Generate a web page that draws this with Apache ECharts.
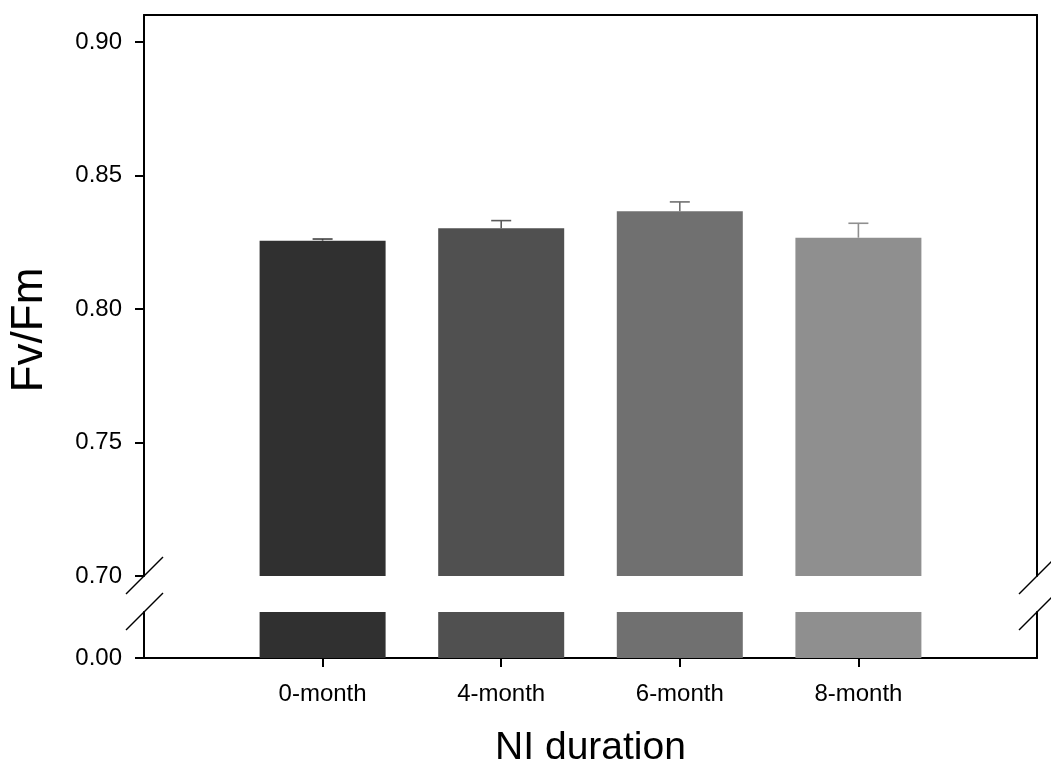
<!DOCTYPE html>
<html>
<head>
<meta charset="utf-8">
<script src="https://cdn.jsdelivr.net/npm/echarts@6/dist/echarts.min.js"></script>
<style>html,body{margin:0;padding:0;background:#fff}#c{width:1051px;height:769px}</style>
</head>
<body>
<div id="c"></div>
<script>
var categories = ['0-month', '4-month', '6-month', '8-month'];
var fvfm = [0.8256, 0.8302, 0.8366, 0.8267];
var sem = [0.0006, 0.0029, 0.0035, 0.0054];
var upperTicks = [0.70, 0.75, 0.80, 0.85, 0.90];
var lowerTicks = [0.00];
var barColors = ['#303030', '#505050', '#707070', '#8f8f8f'];
var errColors = ['#404040', '#5a5a5a', '#707070', '#8f8f8f'];

var FONT = "'Liberation Sans', Arial, Helvetica, sans-serif";
var L = 144, W = 893, T1 = 15, H1 = 561, T2 = 612, H2 = 47;
var axisData = [''].concat(categories).concat(['']);
function pad(arr) { return ['-'].concat(arr).concat(['-']); }
var barData = pad(fvfm.map(function (v, i) { return { value: v, itemStyle: { color: barColors[i] } }; }));
var errData = fvfm.map(function (v, i) { return [i + 1, v, sem[i]]; });
var lineStyle = { color: '#000', width: 2 };

var chart = echarts.init(document.getElementById('c'), null, { renderer: 'canvas' });
chart.setOption({
  animation: false,
  backgroundColor: '#fff',
  grid: [
    { left: L, top: T1, width: W, height: H1 },
    { left: L, top: T2, width: W, height: H2 },
    { left: L, top: T1, width: W, height: 630 }
  ],
  xAxis: [
    { type: 'category', gridIndex: 0, data: axisData, boundaryGap: false, position: 'bottom',
      axisLine: { show: false }, axisTick: { show: false }, axisLabel: { show: false }, splitLine: { show: false } },
    { type: 'category', gridIndex: 0, data: axisData, boundaryGap: false, position: 'top',
      axisLine: { show: true, lineStyle: lineStyle }, axisTick: { show: false }, axisLabel: { show: false }, splitLine: { show: false } },
    { type: 'category', gridIndex: 1, data: axisData, boundaryGap: false, position: 'bottom',
      axisLine: { show: true, lineStyle: lineStyle },
      axisTick: { show: true, length: 9, lineStyle: { color: '#000', width: 2 },
        interval: function (i) { return i >= 1 && i <= categories.length; } },
      axisLabel: { show: true, margin: 24, color: '#000', fontSize: 24, fontFamily: FONT, interval: 0 },
      name: 'NI duration', nameLocation: 'middle', nameGap: 71,
      nameTextStyle: { color: '#000', fontSize: 39, fontFamily: FONT },
      splitLine: { show: false } },
    { type: 'category', gridIndex: 2, data: axisData, show: false }
  ],
  yAxis: [
    { type: 'value', gridIndex: 0, min: 0.70, max: 0.9101, position: 'left',
      axisLine: { show: true, lineStyle: lineStyle },
      axisTick: { show: true, length: 9, lineStyle: { color: '#000', width: 2 }, customValues: upperTicks },
      axisLabel: { show: true, margin: 22, color: '#000', fontSize: 24, fontFamily: FONT, customValues: upperTicks,
        formatter: function (v) { return v.toFixed(2); } },
      splitLine: { show: false } },
    { type: 'value', gridIndex: 0, min: 0.70, max: 0.9101, position: 'right',
      axisLine: { show: true, lineStyle: lineStyle }, axisTick: { show: false }, axisLabel: { show: false }, splitLine: { show: false } },
    { type: 'value', gridIndex: 1, min: 0, max: 0.1, position: 'left',
      axisLine: { show: true, lineStyle: lineStyle },
      axisTick: { show: true, length: 9, lineStyle: { color: '#000', width: 2 }, customValues: lowerTicks },
      axisLabel: { show: true, margin: 22, color: '#000', fontSize: 24, fontFamily: FONT, customValues: lowerTicks,
        formatter: function (v) { return v.toFixed(2); } },
      splitLine: { show: false } },
    { type: 'value', gridIndex: 1, min: 0, max: 0.1, position: 'right',
      axisLine: { show: true, lineStyle: lineStyle }, axisTick: { show: false }, axisLabel: { show: false }, splitLine: { show: false } },
    { type: 'value', gridIndex: 2, position: 'left',
      axisLine: { show: false }, axisTick: { show: false }, axisLabel: { show: false }, splitLine: { show: false },
      name: 'Fv/Fm', nameLocation: 'middle', nameGap: 100,
      nameTextStyle: { color: '#000', fontSize: 44, fontFamily: FONT } }
  ],
  series: [
    { type: 'bar', xAxisIndex: 0, yAxisIndex: 0, data: barData, barWidth: 126, clip: true, silent: true },
    { type: 'bar', xAxisIndex: 2, yAxisIndex: 2, data: barData, barWidth: 126, clip: true, silent: true },
    { type: 'custom', xAxisIndex: 0, yAxisIndex: 0, data: errData, encode: { x: 0, y: 1 }, silent: true,
      renderItem: function (params, api) {
        var x = api.value(0), v = api.value(1), e = api.value(2);
        var p1 = api.coord([x, v]);
        var p2 = api.coord([x, v + e]);
        var col = errColors[params.dataIndex];
        var st = { stroke: col, lineWidth: 1.6 };
        return { type: 'group', children: [
          { type: 'line', shape: { x1: p1[0], y1: p1[1], x2: p2[0], y2: p2[1] }, style: st },
          { type: 'line', shape: { x1: p2[0] - 10, y1: p2[1], x2: p2[0] + 10, y2: p2[1] }, style: st }
        ] };
      } }
  ],
  graphic: [
    { type: 'rect', shape: { x: L - 3, y: T1 + H1 + 1, width: 6, height: T2 - T1 - H1 - 2 }, style: { fill: '#fff' }, z: 100 },
    { type: 'rect', shape: { x: L + W - 3, y: T1 + H1 + 1, width: 6, height: T2 - T1 - H1 - 2 }, style: { fill: '#fff' }, z: 100 },
    { type: 'line', shape: { x1: L - 18, y1: T1 + H1 + 18, x2: L + 19, y2: T1 + H1 - 19 }, style: { stroke: '#000', lineWidth: 1.5 }, z: 101 },
    { type: 'line', shape: { x1: L - 18, y1: T2 + 18, x2: L + 19, y2: T2 - 19 }, style: { stroke: '#000', lineWidth: 1.5 }, z: 101 },
    { type: 'line', shape: { x1: L + W - 18, y1: T1 + H1 + 18, x2: L + W + 19, y2: T1 + H1 - 19 }, style: { stroke: '#000', lineWidth: 1.5 }, z: 101 },
    { type: 'line', shape: { x1: L + W - 18, y1: T2 + 18, x2: L + W + 19, y2: T2 - 19 }, style: { stroke: '#000', lineWidth: 1.5 }, z: 101 }
  ]
});
</script>
</body>
</html>
